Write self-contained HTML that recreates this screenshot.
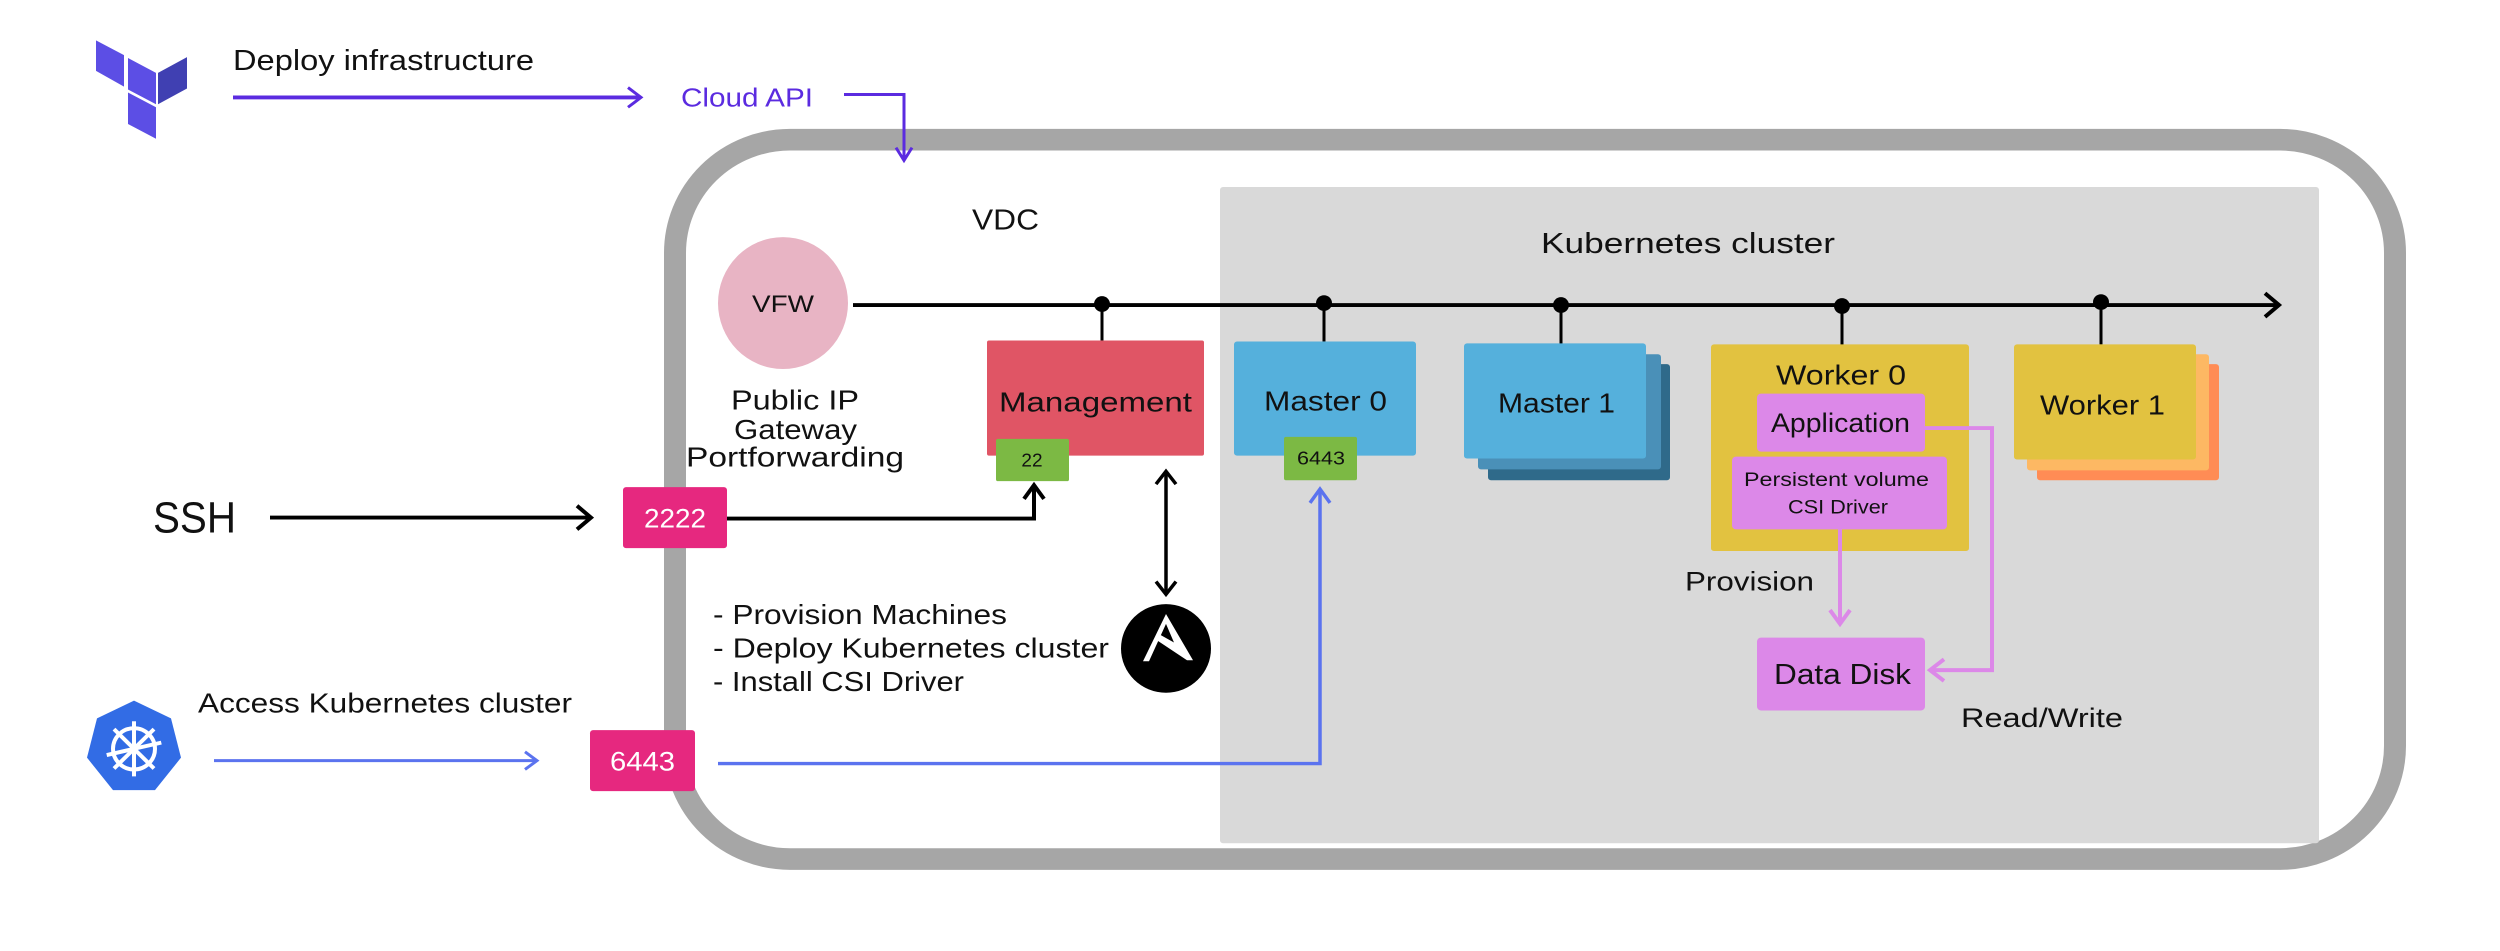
<!DOCTYPE html>
<html><head><meta charset="utf-8"><style>
html,body{margin:0;padding:0;background:#fff;}
svg{display:block;}
text{font-family:"Liberation Sans",sans-serif;}
</style></head><body>
<svg width="2500" height="951" viewBox="0 0 2500 951" xmlns="http://www.w3.org/2000/svg">
<g transform="scale(1,0.984)">
<!-- Terraform logo -->
<g fill="#5c4ee5">
<polygon points="96,41 124,56 124,88 96,72"/>
<polygon points="128,59 156,74 156,106 128,91"/>
<polygon points="128,94 156,109 156,141 128,126"/>
<polygon points="158,74 187,58 187,90 158,106" fill="#4040b2"/>
</g>
<text x="233" y="71" font-size="29" fill="#111" textLength="301" lengthAdjust="spacingAndGlyphs">Deploy infrastructure</text>
<line x1="233" y1="99" x2="640" y2="99" stroke="#5b2be0" stroke-width="4"/>
<polyline points="628,89 641,99 628,109" fill="none" stroke="#5b2be0" stroke-width="3"/>
<text x="681" y="108" font-size="26" fill="#5b2be0" textLength="132" lengthAdjust="spacingAndGlyphs">Cloud API</text>

<!-- outer VDC rounded rect -->
<rect x="675" y="142" width="1720" height="731" rx="115" ry="115" fill="#fff" stroke="#a6a6a6" stroke-width="22"/>
<polyline points="844,96 904,96 904,162" fill="none" stroke="#5b2be0" stroke-width="3"/>
<polyline points="896,150 904,163 912,150" fill="none" stroke="#5b2be0" stroke-width="3"/>
<!-- cluster area -->
<rect x="1220" y="190" width="1099" height="667" fill="#d9d9d9" rx="3"/>

<text x="972" y="233" font-size="29" fill="#111" textLength="67" lengthAdjust="spacingAndGlyphs">VDC</text>
<text x="1541" y="257" font-size="29" fill="#111" textLength="294" lengthAdjust="spacingAndGlyphs">Kubernetes cluster</text>

<!-- VFW -->
<ellipse cx="783" cy="308" rx="65" ry="67" fill="#e8b4c4"/>
<text x="752" y="317" font-size="24" fill="#111" textLength="62" lengthAdjust="spacingAndGlyphs">VFW</text>
<g font-size="28" fill="#111">
<text x="731" y="416" textLength="128" lengthAdjust="spacingAndGlyphs">Public IP</text>
<text x="734" y="446" textLength="123" lengthAdjust="spacingAndGlyphs">Gateway</text>
<text x="686" y="474" textLength="218" lengthAdjust="spacingAndGlyphs">Portforwarding</text>
</g>

<!-- bus -->
<line x1="853" y1="310" x2="2278" y2="310" stroke="#000" stroke-width="4"/>
<polyline points="2265,298 2279,310 2265,322" fill="none" stroke="#000" stroke-width="4"/>
<g fill="#000">
<circle cx="1102" cy="309" r="8"/><circle cx="1324" cy="308" r="8"/><circle cx="1561" cy="310" r="8"/><circle cx="1842" cy="311" r="8"/><circle cx="2101" cy="307" r="8"/>
</g>
<g stroke="#000" stroke-width="3">
<line x1="1102" y1="309" x2="1102" y2="346"/>
<line x1="1324" y1="308" x2="1324" y2="347"/>
<line x1="1561" y1="310" x2="1561" y2="350"/>
<line x1="1842" y1="311" x2="1842" y2="351"/>
<line x1="2101" y1="307" x2="2101" y2="350"/>
</g>

<!-- Management -->
<rect x="987" y="346" width="217" height="117" fill="#e05565" rx="2"/>
<text x="999" y="418" font-size="28" fill="#111" textLength="193" lengthAdjust="spacingAndGlyphs">Management</text>
<rect x="996" y="446" width="73" height="43" fill="#7cb944" rx="2"/>
<text x="1032" y="474" font-size="19" fill="#111" text-anchor="middle">22</text>

<!-- Master 0 -->
<rect x="1234" y="347" width="182" height="116" fill="#55b0dc" rx="3"/>
<text x="1264" y="417" font-size="28" fill="#111" textLength="123" lengthAdjust="spacingAndGlyphs">Master 0</text>
<rect x="1284" y="444" width="73" height="44" fill="#7cb944" rx="2"/>
<text x="1297" y="472" font-size="19" fill="#111" textLength="48" lengthAdjust="spacingAndGlyphs">6443</text>

<!-- Master 1 -->
<rect x="1488" y="370" width="182" height="118" fill="#2f6a8a" rx="3"/>
<rect x="1478" y="360" width="183" height="117" fill="#4a90b8" rx="3"/>
<rect x="1464" y="349" width="182" height="117" fill="#55b0dc" rx="3"/>
<text x="1498" y="419" font-size="28" fill="#111" textLength="117" lengthAdjust="spacingAndGlyphs">Master 1</text>

<!-- Worker 0 -->
<rect x="1711" y="350" width="258" height="210" fill="#e2c240" rx="3"/>
<text x="1776" y="391" font-size="28" fill="#111" textLength="130" lengthAdjust="spacingAndGlyphs">Worker 0</text>
<rect x="1757" y="400" width="168" height="59" fill="#dc88e8" rx="4"/>
<text x="1771" y="439" font-size="27" fill="#111" textLength="139" lengthAdjust="spacingAndGlyphs">Application</text>
<rect x="1732" y="464" width="215" height="74" fill="#dc88e8" rx="4"/>
<text x="1744" y="494" font-size="20" fill="#111" textLength="185" lengthAdjust="spacingAndGlyphs">Persistent volume</text>
<text x="1788" y="522" font-size="20" fill="#111" textLength="100" lengthAdjust="spacingAndGlyphs">CSI Driver</text>

<!-- Worker 1 -->
<rect x="2037" y="370" width="182" height="118" fill="#ff8c55" rx="3"/>
<rect x="2027" y="360" width="182" height="118" fill="#fdb863" rx="3"/>
<rect x="2014" y="350" width="182" height="117" fill="#e2c240" rx="3"/>
<text x="2040" y="421" font-size="28" fill="#111" textLength="125" lengthAdjust="spacingAndGlyphs">Worker 1</text>

<!-- Data disk -->
<rect x="1757" y="648" width="168" height="74" fill="#dc88e8" rx="4"/>
<text x="1774" y="695" font-size="29" fill="#111" textLength="137" lengthAdjust="spacingAndGlyphs">Data Disk</text>
<line x1="1840" y1="538" x2="1840" y2="633" stroke="#dc88e8" stroke-width="4"/>
<polyline points="1830,620 1840,634 1850,620" fill="none" stroke="#dc88e8" stroke-width="4"/>
<polyline points="1925,435 1992,435 1992,681 1930,681" fill="none" stroke="#dc88e8" stroke-width="4"/>
<polyline points="1944,670 1930,681 1944,692" fill="none" stroke="#dc88e8" stroke-width="4"/>
<text x="1685" y="600" font-size="27" fill="#111" textLength="129" lengthAdjust="spacingAndGlyphs">Provision</text>
<text x="1961" y="739" font-size="27" fill="#111" textLength="162" lengthAdjust="spacingAndGlyphs">Read/Write</text>

<!-- SSH -->
<text x="153" y="541" font-size="44" fill="#111" textLength="83" lengthAdjust="spacingAndGlyphs">SSH</text>
<line x1="270" y1="526" x2="590" y2="526" stroke="#000" stroke-width="4"/>
<polyline points="577,514 591,526 577,538" fill="none" stroke="#000" stroke-width="4"/>
<rect x="623" y="495" width="104" height="62" fill="#e6287f" rx="3"/>
<text x="644" y="536" font-size="27" fill="#fff" textLength="62" lengthAdjust="spacingAndGlyphs">2222</text>
<polyline points="727,527 1034,527 1034,494" fill="none" stroke="#000" stroke-width="4"/>
<polyline points="1024,507 1034,493 1044,507" fill="none" stroke="#000" stroke-width="4"/>

<!-- ansible double arrow -->
<line x1="1166" y1="480" x2="1166" y2="603" stroke="#000" stroke-width="3.5"/>
<polyline points="1156,492 1166,479 1176,492" fill="none" stroke="#000" stroke-width="3.5"/>
<polyline points="1156,591 1166,604 1176,591" fill="none" stroke="#000" stroke-width="3.5"/>
<circle cx="1166" cy="659" r="45" fill="#000"/>
<polygon points="1166,624 1143,672 1149,672 1166,634 1174,653 1160,645 1156,650 1187,671 1193,671" fill="#fff"/>
<g font-size="28" fill="#111">
<text x="713" y="634" textLength="294" lengthAdjust="spacingAndGlyphs">- Provision Machines</text>
<text x="713" y="668" textLength="396" lengthAdjust="spacingAndGlyphs">- Deploy Kubernetes cluster</text>
<text x="713" y="702" textLength="251" lengthAdjust="spacingAndGlyphs">- Install CSI Driver</text>
</g>

<!-- Kubernetes logo -->
<polygon points="134,712 171,730 181,770 155,803 113,803 87,770 97,730" fill="#326ce5"/>
<g stroke="#fff" stroke-width="4" fill="none">
<circle cx="134" cy="761" r="21"/>
<line x1="134" y1="733" x2="134" y2="789"/>
<line x1="106" y1="761" x2="162" y2="761" transform="rotate(-13 134 761)"/>
<line x1="114" y1="741" x2="154" y2="781"/>
<line x1="154" y1="741" x2="114" y2="781"/>
</g>
<circle cx="134" cy="761" r="4" fill="#fff"/>
<text x="198" y="724" font-size="28" fill="#111" textLength="374" lengthAdjust="spacingAndGlyphs">Access Kubernetes cluster</text>
<line x1="214" y1="773" x2="536" y2="773" stroke="#5b73ef" stroke-width="3"/>
<polyline points="525,764 537,773 525,782" fill="none" stroke="#5b73ef" stroke-width="3"/>
<rect x="590" y="742" width="105" height="62" fill="#e6287f" rx="3"/>
<text x="610" y="783" font-size="27" fill="#fff" textLength="65" lengthAdjust="spacingAndGlyphs">6443</text>
<polyline points="718,776 1320,776 1320,498" fill="none" stroke="#5b73ef" stroke-width="3.5"/>
<polyline points="1310,511 1320,497 1330,511" fill="none" stroke="#5b73ef" stroke-width="3.5"/>
</g>
</svg>
</body></html>
